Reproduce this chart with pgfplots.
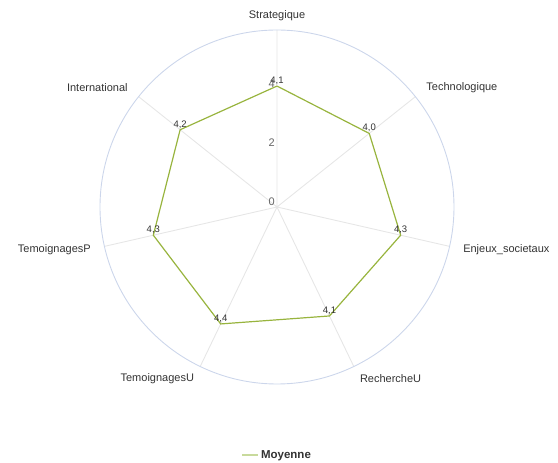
\documentclass[border=0pt]{standalone}
\usepackage{fontspec}
\setmainfont{Liberation Sans}
\usepackage{pgfplots}
\pgfplotsset{compat=1.18}
\usepgfplotslibrary{polar}
\definecolor{serie}{HTML}{98B43E}
\definecolor{seriel}{HTML}{C8DA9C}
\definecolor{spoke}{HTML}{E6E6E6}
\definecolor{rim}{HTML}{CCD6EB}
\definecolor{txt}{HTML}{333333}
\definecolor{tick}{HTML}{666666}
\begin{document}
\begin{tikzpicture}
\useasboundingbox (0,0) rectangle (558pt,463pt);
\begin{polaraxis}[
  at={(277pt,256pt)}, anchor=origin,
  width=354pt, height=354pt, scale only axis,
  xmin=0, xmax=360, ymin=0, ymax=6,
  xtick={90,38.571,347.143,295.714,244.286,192.857,141.429},
  xticklabels=\empty,
  ytick=\empty,
  major tick length=0pt,
  xmajorgrids, ymajorgrids=false,
  x grid style={draw=spoke, line width=0.9pt},
  axis line style={draw=rim, line width=0.9pt},
  y axis line style={draw=none},
  clip=false,
  legend style={at={(axis description cs:0.5,-0.2)}, anchor=center, draw=none,
    font=\fontsize{11.5}{13}\selectfont\bfseries, text=txt, fill=none},
  legend image code/.code={\draw[#1, draw=seriel, line width=2pt] (0pt,0pt) -- (16pt,0pt);},
]
\addplot[serie, line width=1.2pt, mark=none] coordinates {
  (90,4.1) (38.571,4.0) (347.143,4.3) (295.714,4.1) (244.286,4.4) (192.857,4.3) (141.429,4.2) (90,4.1)
};
\addlegendentry{Moyenne}
\addplot[draw=none, mark=none, forget plot,
  nodes near coords,
  nodes near coords style={font=\fontsize{9.5}{11}\selectfont, text=txt, anchor=south, inner sep=1.2pt,
    /pgf/number format/.cd, use comma, fixed, fixed zerofill, precision=1, assume math mode=true},
] coordinates {
  (90,4.1) (38.571,4.0) (347.143,4.3) (295.714,4.1) (244.286,4.4) (192.857,4.3) (141.429,4.2)
};
\begin{scope}[every node/.style={font=\fontsize{11}{13}\selectfont, text=txt, inner sep=0pt}]
\node[anchor=center] at (axis cs:90,6.5) {Strategique};
\node[anchor=west] at (axis cs:38.571,6.47) {Technologique};
\node[anchor=west] at (axis cs:347.143,6.47) {Enjeux\_societaux};
\node[anchor=west] at (axis cs:295.714,6.47) {RechercheU};
\node[anchor=east] at (axis cs:244.286,6.47) {TemoignagesU};
\node[anchor=east] at (axis cs:192.857,6.47) {TemoignagesP};
\node[anchor=east] at (axis cs:141.429,6.47) {International};
\end{scope}
\begin{scope}[every node/.style={font=\fontsize{11}{13}\selectfont, text=tick, inner sep=0pt, anchor=south east, xshift=-2pt, yshift=1pt}]
\node at (axis cs:90,0) {0};
\node at (axis cs:90,2) {2};
\node at (axis cs:90,4) {4};
\end{scope}
\end{polaraxis}
\end{tikzpicture}
\end{document}
